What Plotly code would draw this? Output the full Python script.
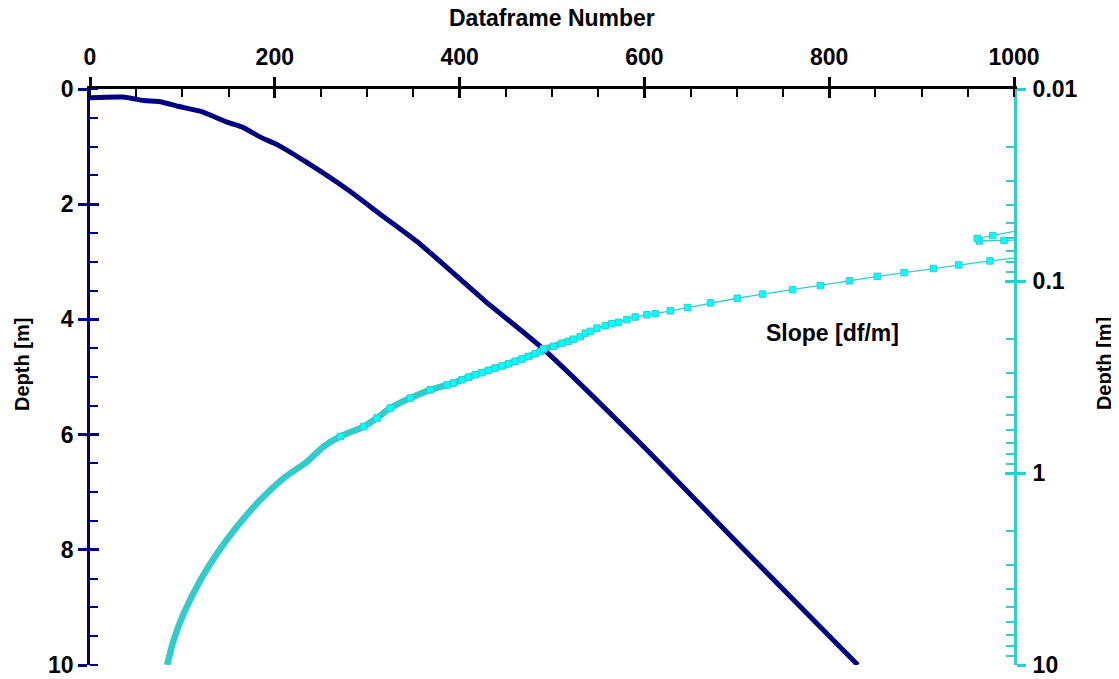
import plotly.graph_objects as go

# ---- Data -------------------------------------------------------------
# Dataframe number vs depth (navy curve, left linear depth axis)
frame_number = [0, 36, 58, 76, 95, 120, 149, 166, 185, 203, 235, 279, 317,
                357, 426, 491, 603, 708, 831]
frame_depth = [0.15, 0.14, 0.20, 0.22, 0.30, 0.39, 0.58, 0.67, 0.84, 0.97,
               1.28, 1.75, 2.21, 2.69, 3.66, 4.52, 6.27, 8.0, 10.0]

# Slope series (cyan), plotted on the dataframe scale against the right log axis
slope_x = [83.5, 90.6, 101.5, 119.5, 137.6, 159.2, 184.4, 209.6, 234.9, 252.9,
           271.0, 296.2, 310.7, 325.0, 346.7, 368.3, 386.4, 393.5, 402.6, 409.7,
           417.0, 424.2, 431.4, 438.6, 445.9, 453.0, 460.2, 467.5, 474.6, 481.9,
           487.3, 490.9, 501.7, 510.8, 517.9, 523.3, 530.6, 536.0, 541.4, 548.6,
           557.6, 564.8, 572.0, 581.1, 590.0, 602.7, 611.7, 628.0, 646.7, 671.5,
           700.6, 728.0, 760.4, 790.4, 821.9, 851.9, 881.0, 912.7, 940.2, 974.0,
           1008.7, 1017.3, 989.2, 962.5, 960.3, 977.0, 1017.3]
slope_y = [10.0, 7.41, 5.38, 3.61, 2.62, 1.90, 1.38, 1.064, 0.873, 0.728,
           0.645, 0.573, 0.517, 0.459, 0.407, 0.369, 0.348, 0.340, 0.327, 0.317,
           0.308, 0.300, 0.292, 0.284, 0.277, 0.270, 0.262, 0.255, 0.247, 0.239,
           0.233, 0.226, 0.219, 0.211, 0.206, 0.201, 0.195, 0.187, 0.183, 0.176,
           0.171, 0.167, 0.164, 0.159, 0.154, 0.150, 0.148, 0.143, 0.1375, 0.130,
           0.123, 0.117, 0.111, 0.1057, 0.0998, 0.0946, 0.0904, 0.0861, 0.0825, 0.0786,
           0.0752, 0.0610, 0.0615, 0.0619, 0.0600, 0.0580, 0.0532]

# Axis ticks
x_major = [0, 200, 400, 600, 800, 1000]
x_minor = [v * 50 for v in range(21)]
depth_major = [0, 2, 4, 6, 8, 10]
depth_minor = [v * 0.5 for v in range(21)]
log_major = [0.01, 0.1, 1, 10]
log_major_text = ["0.01", "0.1", "1", "10"]
log_minor = [m * d for d in (0.01, 0.1, 1) for m in range(2, 10)]

# ---- Style ------------------------------------------------------------
NAVY = "#000080"
TURQ = "#33CCCC"
CYAN = "#00FFFF"
FONT = "Liberation Sans, Arial, sans-serif"
FSIZE = 23
TICKFONT = dict(family=FONT, size=FSIZE, color="black", weight="bold")

# band (dense part) and marker part chosen from the data values
band_x = [x for x, y in zip(slope_x, slope_y) if y >= 0.2]
band_y = [y for y in slope_y if y >= 0.2]
mk_x = [x for x, y in zip(slope_x, slope_y) if y <= 0.7]
mk_y = [y for y in slope_y if y <= 0.7]

fig = go.Figure()

fig.add_trace(go.Scatter(x=band_x, y=band_y, xaxis="x", yaxis="y2",
                         mode="lines",
                         line=dict(color=TURQ, width=6.5, shape="spline", smoothing=0.8),
                         hoverinfo="skip", showlegend=False))
fig.add_trace(go.Scatter(x=slope_x, y=slope_y, xaxis="x", yaxis="y2",
                         mode="lines", line=dict(color=TURQ, width=1.3),
                         name="Slope [df/m]", showlegend=False))
fig.add_trace(go.Scatter(x=mk_x, y=mk_y, xaxis="x", yaxis="y2",
                         mode="markers",
                         marker=dict(symbol="square", size=6.5, color=CYAN,
                                     line=dict(color=TURQ, width=1)),
                         hoverinfo="skip", showlegend=False))
fig.add_trace(go.Scatter(x=frame_number, y=frame_depth, xaxis="x", yaxis="y",
                         mode="lines",
                         line=dict(color=NAVY, width=5, shape="spline", smoothing=0.6),
                         name="Dataframe Number", showlegend=False))
# empty traces to host the overlay tick axes
fig.add_trace(go.Scatter(x=[], y=[], xaxis="x2", yaxis="y3", showlegend=False))
fig.add_trace(go.Scatter(x=[], y=[], xaxis="x2", yaxis="y4", showlegend=False))

common = dict(showgrid=False, zeroline=False, automargin=False)

# page body has an 8px margin: figure is shrunk/offset to compensate
fig.update_layout(
    width=1111, height=671,
    margin=dict(l=82, r=105, t=81, b=14, autoexpand=False),
    paper_bgcolor="white", plot_bgcolor="white",
    showlegend=False,
    xaxis=dict(side="top", range=[0, 1000], tickmode="array", tickvals=x_major,
               ticks="outside", ticklen=9, tickwidth=2.5, tickcolor="black",
               showline=True, linecolor="black", linewidth=2.5,
               tickfont=TICKFONT, ticklabelstandoff=3,
               minor=dict(tickmode="array", tickvals=x_minor, ticks="inside",
                          ticklen=8, tickwidth=2, tickcolor="black"),
               **common),
    xaxis2=dict(overlaying="x", side="top", range=[0, 1000], tickmode="array",
                tickvals=x_major, ticks="inside", ticklen=9, tickwidth=2.5,
                tickcolor="black", showticklabels=False, showline=False, **common),
    yaxis=dict(range=[10, 0], tickmode="array", tickvals=depth_major,
               ticks="outside", ticklen=9, tickwidth=2.5, tickcolor=NAVY,
               showline=True, linecolor=NAVY, linewidth=2.5,
               tickfont=TICKFONT, ticklabelstandoff=0, ticklabeloverflow="allow",
               minor=dict(tickmode="array", tickvals=depth_minor, ticks="inside",
                          ticklen=8, tickwidth=2, tickcolor=NAVY),
               **common),
    yaxis3=dict(overlaying="y", side="left", range=[10, 0], tickmode="array",
                tickvals=depth_major, ticks="inside", ticklen=9, tickwidth=2.5,
                tickcolor=NAVY, showticklabels=False, showline=False, **common),
    yaxis2=dict(overlaying="y", side="right", type="log", range=[1, -2],
                tickmode="array", tickvals=log_major, ticktext=log_major_text,
                ticks="outside", ticklen=9, tickwidth=2.5, tickcolor=TURQ,
                showline=True, linecolor=TURQ, linewidth=3,
                tickfont=TICKFONT, ticklabelstandoff=2, ticklabeloverflow="allow",
                minor=dict(tickmode="array", tickvals=log_minor, ticks="inside",
                           ticklen=8, tickwidth=2, tickcolor=TURQ),
                **common),
    yaxis4=dict(overlaying="y", side="right", type="log", range=[1, -2],
                tickmode="array", tickvals=log_major, ticks="inside", ticklen=9,
                tickwidth=2.5, tickcolor=TURQ, showticklabels=False,
                showline=False, **common),
)

title_font = dict(family=FONT, size=FSIZE, color="black", weight="bold")
side_font = dict(family=FONT, size=20, color="black", weight="bold")
fig.add_annotation(text="Dataframe Number", xref="paper", yref="paper",
                   x=0.5, y=1.1224, xanchor="center", yanchor="middle",
                   showarrow=False, font=title_font)
fig.add_annotation(text="Depth [m]", xref="paper", yref="paper",
                   x=-0.0736, y=0.5226, xanchor="center", yanchor="middle",
                   textangle=-90, showarrow=False, font=side_font)
fig.add_annotation(text="Depth [m]", xref="paper", yref="paper",
                   x=1.0975, y=0.5226, xanchor="center", yanchor="middle",
                   textangle=-90, showarrow=False, font=side_font)
fig.add_annotation(text="Slope [df/m]", xref="paper", yref="paper",
                   x=0.8036, y=0.5764, xanchor="center", yanchor="middle",
                   showarrow=False, font=title_font)

fig.write_html("out.html")
